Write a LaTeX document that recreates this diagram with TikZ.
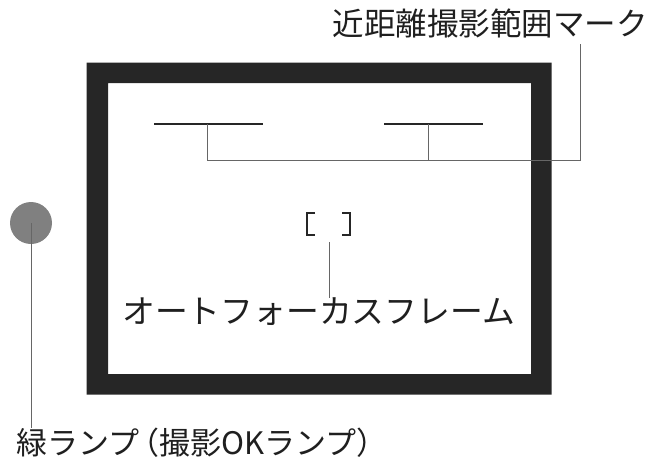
\documentclass[tikz,border=0pt]{standalone}
\usepackage{fontspec}
\setmainfont{Noto Sans CJK JP}
\begin{document}
\begin{tikzpicture}[x=1pt,y=-1pt,
  lbl/.style={inner sep=0pt, text=black!88},
  rangemark/.style={draw=black!85, line width=1.3pt},
  leader/.style={draw=black!60, line width=0.9pt},
  brk/.style={draw=black!85, line width=2pt}]
\useasboundingbox (0,0) rectangle (655,459);
% viewfinder frame
\fill[black!85, even odd rule] (86.5,62.5) rectangle (551.5,394.5) (108,83) rectangle (531,374);
% close-range marks
\coordinate (m1l) at (154,124);
\coordinate (m1r) at (263,124);
\coordinate (m1c) at (207,124);
\coordinate (m2l) at (384,124);
\coordinate (m2r) at (483,124);
\coordinate (m2c) at (428,124);
\coordinate (m1b) at (207,160);
\coordinate (m2b) at (428,160);
\draw[rangemark] (m1l) -- (m1r);
\draw[rangemark] (m2l) -- (m2r);
\node[lbl, anchor=east, font=\fontsize{31.5}{34}\selectfont] (tmark) at (648,23) {近距離撮影範囲マーク};
\coordinate (tl) at (580,44);
\draw[leader] (m1c) -- (m1b) -| (tl);
\draw[leader] (m2c) -- (m2b);
% autofocus frame
\coordinate (bl1) at (315,213);
\coordinate (bl2) at (307,213);
\coordinate (bl3) at (307,235);
\coordinate (bl4) at (315,235);
\coordinate (br1) at (342,213);
\coordinate (br2) at (350,213);
\coordinate (br3) at (350,235);
\coordinate (br4) at (342,235);
\draw[brk] (bl1) -- (bl2) -- (bl3) -- (bl4);
\draw[brk] (br1) -- (br2) -- (br3) -- (br4);
\coordinate (afl) at (329,242);
\node[lbl, anchor=west, font=\fontsize{32.8}{35}\selectfont] (aflbl) at (122,312) {オートフォーカスフレーム};
\draw[leader] (afl) -- (afl |- aflbl.north);
% green lamp
\node[circle, fill=black!50, minimum size=42pt, inner sep=0pt] (lamp) at (31,223) {};
\node[lbl, anchor=west, font=\fontsize{31}{34}\selectfont] (lamplbl) at (16,443) {緑ランプ\kern-0.35em（撮影OKランプ）};
\draw[leader] (lamp.center) -- (lamp |- lamplbl.north);
\end{tikzpicture}
\end{document}
